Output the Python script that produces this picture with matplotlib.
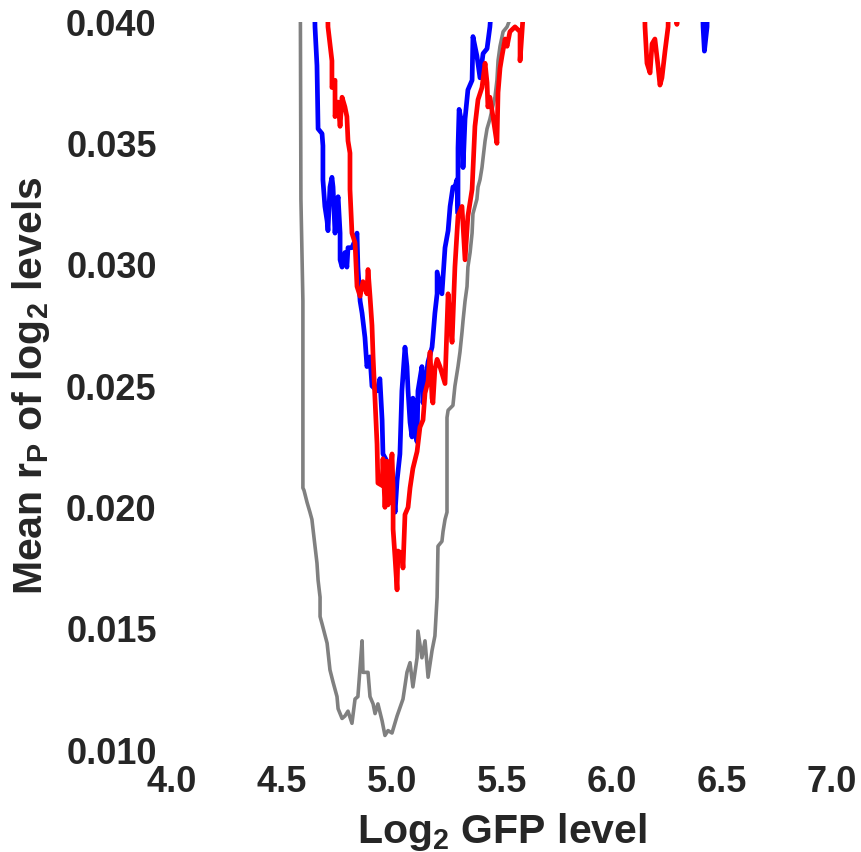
import matplotlib
matplotlib.use("Agg")
import matplotlib.pyplot as plt

plt.rcParams['font.family'] = ['Liberation Sans', 'DejaVu Sans']
plt.rcParams['font.weight'] = 'bold'
plt.rcParams['mathtext.fontset'] = 'custom'
plt.rcParams['mathtext.rm'] = 'Liberation Sans:bold'
plt.rcParams['mathtext.default'] = 'rm'

# ---- data ----
gray_x = [4.582, 4.586, 4.595, 4.595, 4.600, 4.614, 4.627, 4.636, 4.641, 4.650,
          4.659, 4.664, 4.673, 4.673, 4.682, 4.705, 4.718, 4.732, 4.750, 4.755,
          4.773, 4.786, 4.800, 4.818, 4.832, 4.845, 4.864, 4.868, 4.891, 4.900,
          4.914, 4.923, 4.936, 4.955, 4.968, 4.982, 5.000, 5.023, 5.050, 5.068,
          5.082, 5.095, 5.114, 5.118, 5.136, 5.150, 5.164, 5.182, 5.195, 5.205,
          5.209, 5.227, 5.232, 5.241, 5.250, 5.250, 5.255, 5.277, 5.286, 5.300,
          5.309, 5.318, 5.323, 5.332, 5.341, 5.345, 5.355, 5.364, 5.368, 5.386,
          5.391, 5.400, 5.409, 5.414, 5.423, 5.432, 5.445, 5.455, 5.468, 5.477,
          5.482, 5.491, 5.505, 5.523, 5.540, 5.600]
gray_y = [0.0450, 0.0327, 0.0285, 0.0208, 0.0207, 0.0202, 0.0198, 0.0195, 0.0191, 0.0184,
          0.0177, 0.0170, 0.0163, 0.0155, 0.0152, 0.0144, 0.0133, 0.0128, 0.0122, 0.0117,
          0.0113, 0.0114, 0.0116, 0.0111, 0.0121, 0.0122, 0.0145, 0.0132, 0.0132, 0.0122,
          0.0119, 0.0115, 0.0119, 0.0112, 0.0106, 0.0108, 0.0107, 0.0114, 0.0121, 0.0132,
          0.0136, 0.0126, 0.0138, 0.0149, 0.0138, 0.0145, 0.0130, 0.0141, 0.0147, 0.0163,
          0.0184, 0.0186, 0.0190, 0.0195, 0.0198, 0.0237, 0.0240, 0.0242, 0.0250, 0.0258,
          0.0264, 0.0272, 0.0277, 0.0285, 0.0291, 0.0299, 0.0305, 0.0313, 0.0321, 0.0327,
          0.0332, 0.0335, 0.0340, 0.0344, 0.0351, 0.0356, 0.0360, 0.0364, 0.0369, 0.0376,
          0.0384, 0.0390, 0.0396, 0.0398, 0.0402, 0.0450]

blue_x = [4.640, 4.650, 4.659, 4.664, 4.682, 4.686, 4.686, 4.695, 4.705, 4.709,
          4.718, 4.727, 4.732, 4.741, 4.750, 4.755, 4.764, 4.764, 4.773, 4.786,
          4.795, 4.800, 4.818, 4.832, 4.841, 4.845, 4.855, 4.864, 4.877, 4.886,
          4.900, 4.909, 4.932, 4.945, 4.955, 4.959, 4.977, 4.991, 5.005, 5.014,
          5.023, 5.036, 5.045, 5.059, 5.068, 5.073, 5.082, 5.091, 5.095, 5.105,
          5.114, 5.118, 5.136, 5.141, 5.150, 5.164, 5.182, 5.186, 5.195, 5.205,
          5.205, 5.227, 5.241, 5.255, 5.264, 5.277, 5.286, 5.295, 5.300, 5.300,
          5.305, 5.318, 5.323, 5.332, 5.345, 5.364, 5.368, 5.386, 5.400, 5.414,
          5.432, 5.445, 5.455, 5.500, 6.400, 6.414, 6.420, 6.432, 6.440]
blue_y = [0.0450, 0.0398, 0.0382, 0.0356, 0.0354, 0.0349, 0.0335, 0.0324, 0.0318, 0.0314,
          0.0332, 0.0336, 0.0332, 0.0313, 0.0325, 0.0328, 0.0313, 0.0302, 0.0299, 0.0305,
          0.0299, 0.0307, 0.0307, 0.0310, 0.0313, 0.0299, 0.0285, 0.0280, 0.0270, 0.0258,
          0.0262, 0.0250, 0.0248, 0.0253, 0.0236, 0.0222, 0.0219, 0.0217, 0.0209, 0.0198,
          0.0211, 0.0222, 0.0248, 0.0266, 0.0258, 0.0248, 0.0235, 0.0229, 0.0245, 0.0231,
          0.0227, 0.0248, 0.0258, 0.0243, 0.0251, 0.0260, 0.0266, 0.0270, 0.0280, 0.0288,
          0.0297, 0.0288, 0.0307, 0.0314, 0.0324, 0.0332, 0.0332, 0.0335, 0.0321, 0.0348,
          0.0364, 0.0358, 0.0340, 0.0360, 0.0372, 0.0376, 0.0394, 0.0386, 0.0377, 0.0387,
          0.0389, 0.0398, 0.0410, 0.0450, 0.0450, 0.0398, 0.0388, 0.0398, 0.0450]

red_x = [4.700, 4.709, 4.727, 4.727, 4.741, 4.741, 4.755, 4.764, 4.773, 4.786,
         4.795, 4.800, 4.809, 4.809, 4.818, 4.832, 4.841, 4.855, 4.868, 4.886,
         4.891, 4.900, 4.909, 4.914, 4.923, 4.932, 4.936, 4.955, 4.959, 4.968,
         4.977, 4.982, 5.000, 5.005, 5.005, 5.014, 5.023, 5.027, 5.045, 5.050,
         5.059, 5.073, 5.082, 5.095, 5.114, 5.127, 5.141, 5.150, 5.164, 5.173,
         5.182, 5.186, 5.195, 5.205, 5.218, 5.241, 5.255, 5.264, 5.273, 5.286,
         5.300, 5.318, 5.332, 5.345, 5.364, 5.377, 5.391, 5.409, 5.423, 5.432,
         5.436, 5.445, 5.459, 5.477, 5.482, 5.491, 5.500, 5.514, 5.523, 5.536,
         5.559, 5.582, 5.582, 5.591, 5.630, 6.140, 6.150, 6.159, 6.173, 6.182,
         6.195, 6.209, 6.218, 6.227, 6.241, 6.255, 6.260, 6.290, 6.295, 6.300]
red_y = [0.0450, 0.0398, 0.0384, 0.0373, 0.0376, 0.0361, 0.0367, 0.0357, 0.0369, 0.0365,
         0.0361, 0.0351, 0.0346, 0.0331, 0.0313, 0.0309, 0.0291, 0.0287, 0.0293, 0.0288,
         0.0298, 0.0287, 0.0275, 0.0262, 0.0244, 0.0226, 0.0210, 0.0209, 0.0220, 0.0200,
         0.0219, 0.0201, 0.0222, 0.0208, 0.0191, 0.0179, 0.0166, 0.0182, 0.0181, 0.0175,
         0.0197, 0.0200, 0.0208, 0.0216, 0.0223, 0.0233, 0.0236, 0.0247, 0.0252, 0.0264,
         0.0245, 0.0243, 0.0257, 0.0261, 0.0258, 0.0251, 0.0288, 0.0277, 0.0268, 0.0299,
         0.0320, 0.0324, 0.0302, 0.0320, 0.0331, 0.0357, 0.0368, 0.0373, 0.0383, 0.0375,
         0.0365, 0.0369, 0.0361, 0.0350, 0.0371, 0.0381, 0.0386, 0.0393, 0.0390, 0.0396,
         0.0398, 0.0396, 0.0384, 0.0396, 0.0450, 0.0450, 0.0398, 0.0383, 0.0379, 0.0391,
         0.0393, 0.0382, 0.0374, 0.0377, 0.0388, 0.0398, 0.0450, 0.0450, 0.0399, 0.0450]

x_ticks = [4.0, 4.5, 5.0, 5.5, 6.0, 6.5, 7.0]
y_ticks = [0.010, 0.015, 0.020, 0.025, 0.030, 0.035, 0.040]

fig = plt.figure(figsize=(8.61, 8.52), dpi=100)
ax = fig.add_axes([172/861, 1 - 750/852, 660/861, 728/852])

ax.plot(gray_x, gray_y, color='#808080', lw=2.6)
ax.plot(blue_x, blue_y, color='#0000ff', lw=3.4)
ax.plot(red_x, red_y, color='#ff0000', lw=3.4)

ax.set_xlim(4.0, 7.0)
ax.set_ylim(0.010, 0.040)
ax.set_xticks(x_ticks)
ax.set_xticklabels([f"{v:.1f}" for v in x_ticks])
ax.set_yticks(y_ticks)
ax.set_yticklabels([f"{v:.3f}" for v in y_ticks])
for s in ax.spines.values():
    s.set_visible(False)
ax.tick_params(axis='both', length=0, labelsize=26, colors='#262626', pad=11)
for lbl in ax.get_xticklabels() + ax.get_yticklabels():
    lbl.set_fontweight('bold')
ax.set_xlabel("Log$_2$ GFP level", fontsize=29.5, fontweight='bold', color='#262626', labelpad=8)
ax.set_ylabel("Mean r$_\\mathrm{P}$ of log$_2$ levels", fontsize=29.5, fontweight='bold',
              color='#262626', labelpad=10)

fig.savefig("out.png", dpi=100, facecolor='white')
